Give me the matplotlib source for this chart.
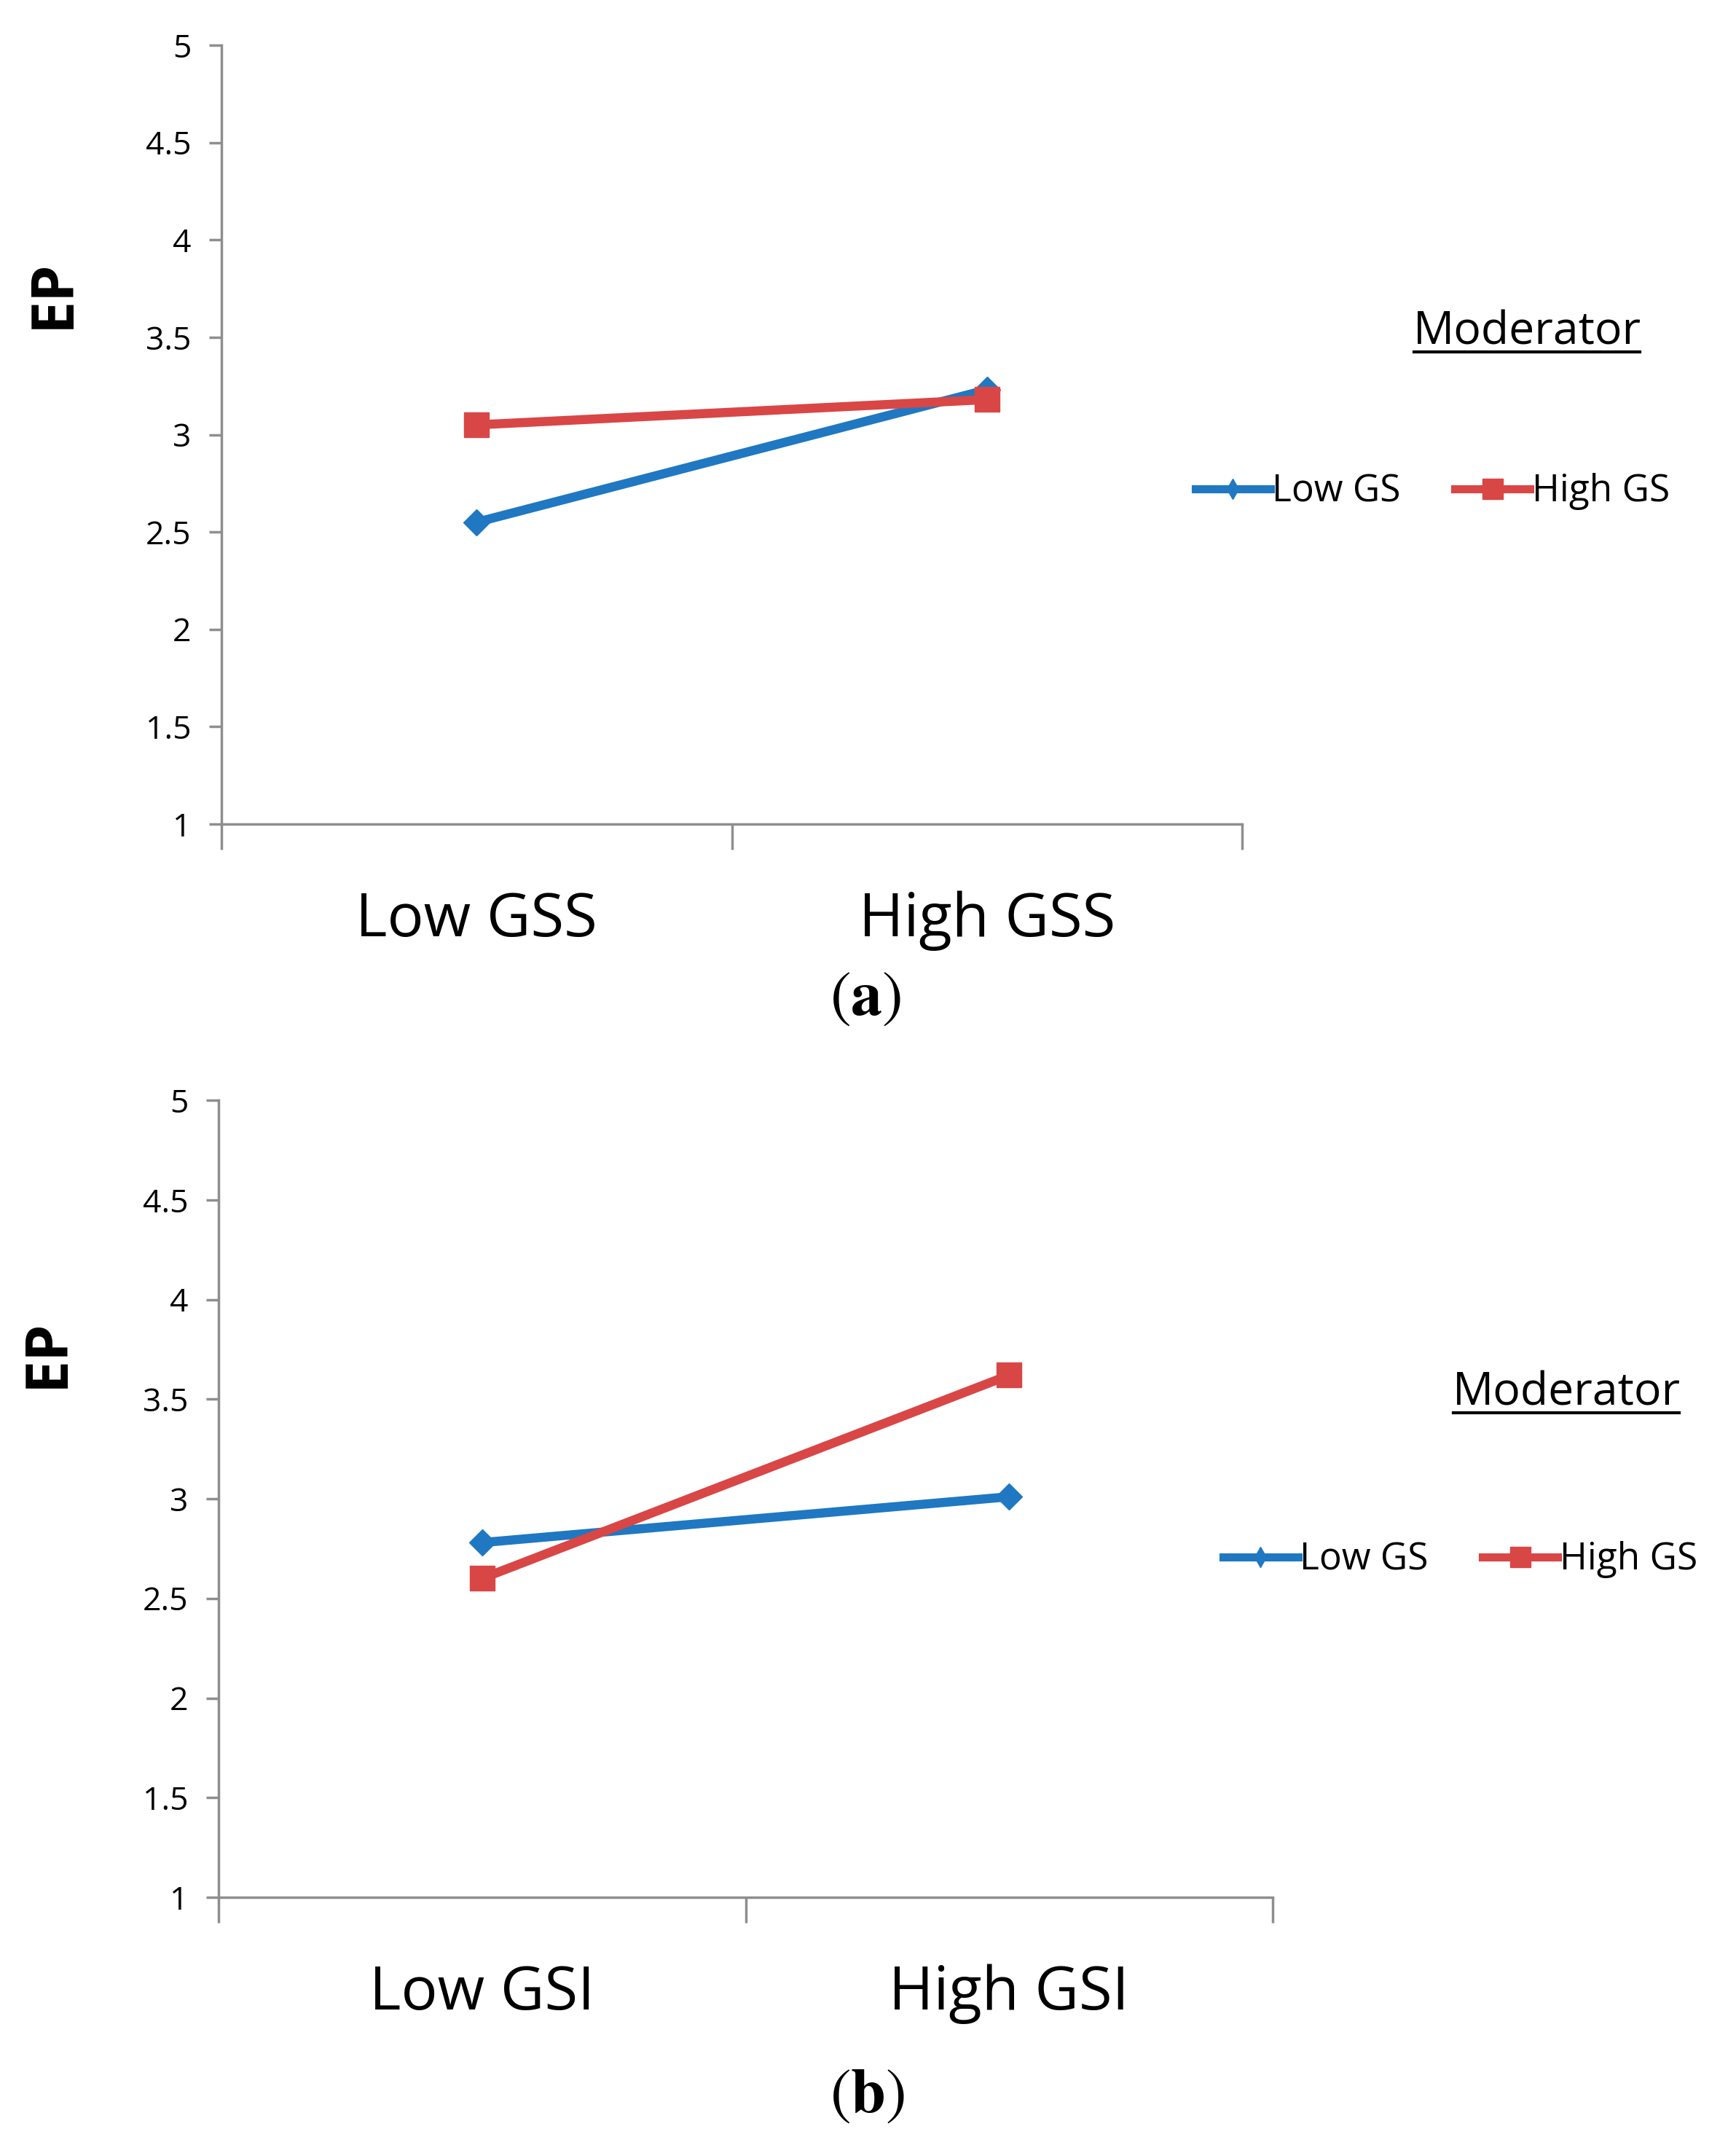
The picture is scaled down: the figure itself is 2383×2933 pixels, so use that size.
import matplotlib
matplotlib.use("Agg")
import matplotlib.pyplot as plt
from matplotlib.lines import Line2D

plt.rcParams['font.family'] = ['Open Sans', 'DejaVu Sans']

# values
ylim = (1, 5)
yticks = [1, 1.5, 2, 2.5, 3, 3.5, 4, 4.5, 5]
ytick_labels = ["1", "1.5", "2", "2.5", "3", "3.5", "4", "4.5", "5"]
series_names = ["Low GS", "High GS"]

cats_a = ["Low GSS", "High GSS"]
low_gs_a = [2.55, 3.23]
high_gs_a = [3.05, 3.18]

cats_b = ["Low GSI", "High GSI"]
low_gs_b = [2.78, 3.01]
high_gs_b = [2.60, 3.62]

BLUE = "#1F78C1"
RED = "#D94646"
GREY = "#8E8E8E"

W, H = 2383, 2933
fig = plt.figure(figsize=(W / 100, H / 100), dpi=100)


def fx(px):
    return px / W


def fy(py):
    return 1 - py / H


def panel(rect, cats, low, high):
    ax = fig.add_axes(rect)
    xs = [0.5, 1.5]
    ax.plot(xs, low, color=BLUE, lw=9, marker="D", ms=18, zorder=3)
    ax.plot(xs, high, color=RED, lw=9, marker="s", ms=24, zorder=3)
    ax.set_xlim(0, 2)
    ax.set_ylim(*ylim)
    ax.set_yticks(yticks)
    ax.set_yticklabels(ytick_labels, fontsize=32)
    ax.set_xticks([0, 1, 2])
    ax.set_xticklabels([])
    ax.set_xticks(xs, minor=True)
    ax.set_xticklabels(cats, minor=True, fontsize=60)
    ax.tick_params(axis="x", which="major", direction="out", length=25,
                   width=2.5, color=GREY)
    ax.tick_params(axis="x", which="minor", length=0, pad=66)
    ax.tick_params(axis="y", direction="out", length=12, width=2.5,
                   color=GREY, pad=18)
    for s in ["top", "right"]:
        ax.spines[s].set_visible(False)
    for s in ["left", "bottom"]:
        ax.spines[s].set_color(GREY)
        ax.spines[s].set_linewidth(2.5)
    return ax


def legend_block(x_left, y_leg, x_mod, y_mod):
    handles = [
        Line2D([], [], color=BLUE, lw=8, marker="d", ms=14),
        Line2D([], [], color=RED, lw=8, marker="s", ms=20),
    ]
    fig.legend(handles, series_names, loc="center left",
               bbox_to_anchor=(fx(x_left), fy(y_leg)), frameon=False,
               ncol=2, fontsize=37, handlelength=2.0, handletextpad=0.05,
               columnspacing=1.45, borderpad=0, borderaxespad=0)
    return fig.text(fx(x_mod), fy(y_mod), "Moderator", fontsize=45,
                    ha="center", va="center")


ax_a = panel([fx(304), fy(1131), fx(1705) - fx(304), fy(62) - fy(1131)],
             cats_a, low_gs_a, high_gs_a)
ax_b = panel([fx(300), fy(2604), fx(1747) - fx(300), fy(1510) - fy(2604)],
             cats_b, low_gs_b, high_gs_b)

fig.text(fx(74), fy(403), "EP", fontsize=58, fontweight="bold",
         rotation=90, ha="center", va="center")
fig.text(fx(66), fy(1857), "EP", fontsize=58, fontweight="bold",
         rotation=90, ha="center", va="center")

mod_a = legend_block(1641, 675, 2096, 456)
mod_b = legend_block(1679, 2141, 2150, 1912)

fig.text(fx(1188), fy(1370), r"$(\mathbf{a})$", fontsize=62,
         math_fontfamily="stix", ha="center", va="center")
fig.text(fx(1191), fy(2876), r"$(\mathbf{b})$", fontsize=62,
         math_fontfamily="stix", ha="center", va="center")

# underline the "Moderator" labels
fig.canvas.draw()
r = fig.canvas.get_renderer()
for t in (mod_a, mod_b):
    bb = t.get_window_extent(r)
    fig.add_artist(Line2D([bb.x0 + 2, bb.x1 - 2], [bb.y0 + 4, bb.y0 + 4],
                          transform=None, color="black", lw=3))

fig.savefig("out.png", dpi=100, facecolor="white")
